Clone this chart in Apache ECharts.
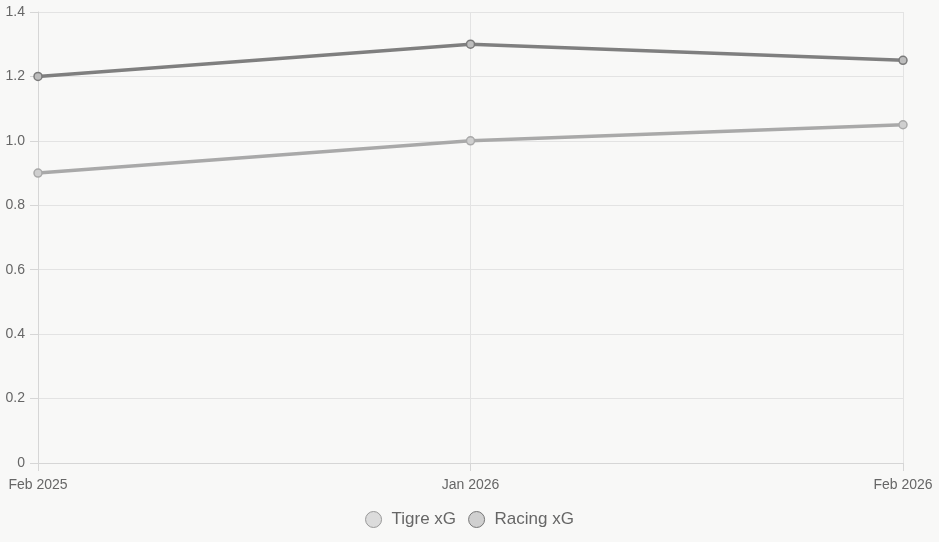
<!DOCTYPE html>
<html>
<head>
<meta charset="utf-8">
<script src="https://cdn.jsdelivr.net/npm/echarts@6/dist/echarts.min.js"></script>
<style>
  html, body { margin: 0; padding: 0; background: #f8f8f7; }
  #chart { width: 939px; height: 542px; }
</style>
</head>
<body>
<div id="chart"></div>
<script>
// data
const months = ['Feb 2025', 'Jan 2026', 'Feb 2026'];
const tigreXg = [0.9, 1.0, 1.05];
const racingXg = [1.2, 1.3, 1.25];

const chart = echarts.init(document.getElementById('chart'));

const option = {
  backgroundColor: '#f8f8f7',
  animation: false,
  grid: { left: 38, right: 36, top: 12, bottom: 79 },
  legend: {
    bottom: 9,
    left: 'center',
    itemWidth: 16,
    itemHeight: 16,
    itemGap: 12,
    textStyle: {
      color: '#666', fontSize: 17, padding: [0, 0, 0, 5],
      fontFamily: 'Arial, Liberation Sans, sans-serif'
    },
    data: [
      { name: 'Tigre xG', icon: 'circle', itemStyle: { color: '#dcdcdc', borderColor: '#999', borderWidth: 1 } },
      { name: 'Racing xG', icon: 'circle', itemStyle: { color: '#d0d0d0', borderColor: '#777', borderWidth: 1 } }
    ]
  },
  xAxis: {
    type: 'category',
    data: months,
    boundaryGap: false,
    axisLine: { lineStyle: { color: '#d6d6d6' } },
    axisTick: { show: true, length: 8, lineStyle: { color: '#d6d6d6' } },
    axisLabel: { color: '#666', fontSize: 14, margin: 15, fontFamily: 'Arial, Liberation Sans, sans-serif' },
    splitLine: { show: true, lineStyle: { color: '#e3e3e3' } }
  },
  yAxis: {
    type: 'value',
    min: 0,
    max: 1.4,
    interval: 0.2,
    axisLine: { show: true, lineStyle: { color: '#d6d6d6' } },
    axisTick: { show: true, length: 8, lineStyle: { color: '#d6d6d6' } },
    axisLabel: {
      color: '#666', fontSize: 14, margin: 13,
      fontFamily: 'Arial, Liberation Sans, sans-serif',
      formatter: v => (v === 0 ? '0' : v.toFixed(1))
    },
    splitLine: { lineStyle: { color: '#e3e3e3' } }
  },
  series: [
    {
      name: 'Tigre xG',
      type: 'line',
      data: tigreXg,
      symbol: 'circle',
      symbolSize: 8,
      lineStyle: { color: '#a9a9a9', width: 3.5 },
      itemStyle: { color: '#cfcfcf', borderColor: '#a9a9a9', borderWidth: 1.5 }
    },
    {
      name: 'Racing xG',
      type: 'line',
      data: racingXg,
      symbol: 'circle',
      symbolSize: 8,
      lineStyle: { color: '#7f7f7f', width: 3.5 },
      itemStyle: { color: '#bdbdbd', borderColor: '#7a7a7a', borderWidth: 1.5 }
    }
  ]
};

chart.setOption(option);
</script>
</body>
</html>
